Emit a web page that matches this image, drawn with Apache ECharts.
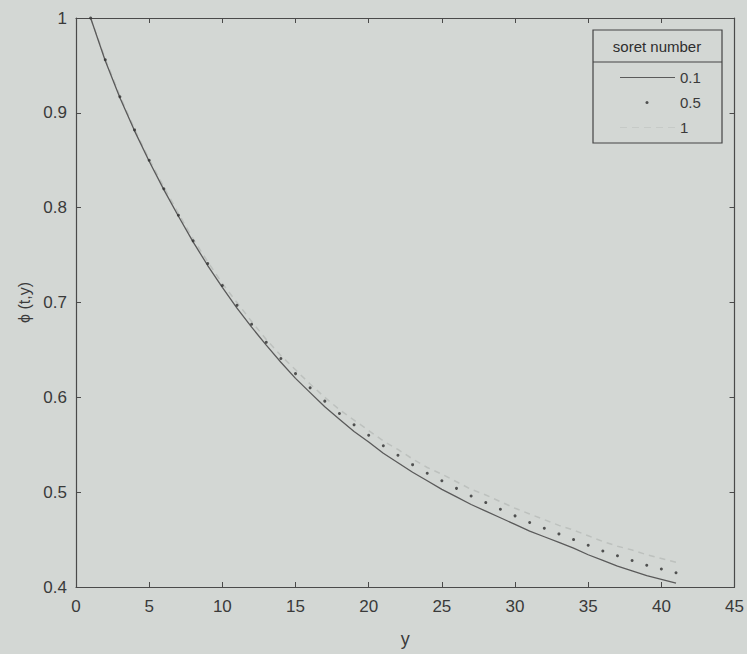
<!DOCTYPE html>
<html>
<head>
<meta charset="utf-8">
<script src="https://cdn.jsdelivr.net/npm/echarts@6/dist/echarts.min.js"></script>
<style>
html,body{margin:0;padding:0;background:#d3d7d4;}
#chart{width:747px;height:654px;}
</style>
</head>
<body>
<div id="chart"></div>
<script>
const yPos = [1,2,3,4,5,6,7,8,9,10,11,12,13,14,15,16,17,18,19,20,21,22,23,24,25,26,27,28,29,30,31,32,33,34,35,36,37,38,39,40,41];
const soret01 = [1.000,0.955,0.916,0.881,0.849,0.819,0.791,0.764,0.739,0.716,0.694,0.674,0.655,0.637,0.620,0.605,0.590,0.577,0.564,0.553,0.541,0.531,0.521,0.512,0.503,0.495,0.487,0.480,0.473,0.466,0.459,0.453,0.447,0.441,0.434,0.428,0.422,0.417,0.412,0.408,0.404];
const soret05 = [1.000,0.956,0.917,0.882,0.850,0.820,0.792,0.765,0.741,0.718,0.697,0.677,0.658,0.641,0.625,0.610,0.596,0.583,0.571,0.560,0.549,0.539,0.529,0.520,0.512,0.504,0.496,0.489,0.482,0.475,0.468,0.462,0.456,0.450,0.444,0.438,0.433,0.428,0.423,0.419,0.415];
const soret1  = [1.000,0.957,0.918,0.883,0.851,0.822,0.794,0.767,0.743,0.720,0.700,0.680,0.661,0.644,0.629,0.614,0.600,0.587,0.576,0.565,0.554,0.545,0.535,0.526,0.519,0.511,0.503,0.497,0.490,0.483,0.477,0.471,0.465,0.460,0.454,0.448,0.443,0.439,0.434,0.430,0.426];
const seriesNames = ['0.1','0.5','1'];
const legendTitle = 'soret number';
const xName = 'y';
const yName = 'ϕ (t,y)';

const pairs = (ys) => yPos.map((x, i) => [x, ys[i]]);
const font = '"Liberation Sans", Arial, sans-serif';
const axisColor = '#4a4a4a';
const textColor = '#3a3a3a';

const chart = echarts.init(document.getElementById('chart'), null, {renderer: 'svg'});
const baseX = {
  type: 'value', min: 0, max: 45, interval: 5,
  axisLine: {show: true, onZero: false, lineStyle: {color: axisColor, width: 1.2}},
  axisTick: {show: true, inside: true, length: 5, lineStyle: {color: axisColor}},
  splitLine: {show: false}
};
const baseY = {
  type: 'value', min: 0.4, max: 1, interval: 0.1,
  axisLine: {show: true, onZero: false, lineStyle: {color: axisColor, width: 1.2}},
  axisTick: {show: true, inside: true, length: 5, lineStyle: {color: axisColor}},
  splitLine: {show: false}
};
chart.setOption({
  backgroundColor: '#d3d7d4',
  animation: false,
  grid: {left: 76, right: 10, top: 18, bottom: 67, containLabel: false},
  xAxis: [
    Object.assign({}, baseX, {
      position: 'bottom',
      name: xName, nameLocation: 'middle', nameGap: 43,
      nameTextStyle: {fontFamily: font, fontSize: 18, color: textColor},
      axisLabel: {show: true, margin: 11, fontFamily: font, fontSize: 17, color: textColor}
    }),
    Object.assign({}, baseX, {position: 'top', axisLabel: {show: false}})
  ],
  yAxis: [
    Object.assign({}, baseY, {
      position: 'left',
      name: yName, nameLocation: 'middle', nameGap: 38,
      nameTextStyle: {fontFamily: font, fontSize: 16, color: textColor},
      axisLabel: {show: true, margin: 9, fontFamily: font, fontSize: 17, color: textColor,
        formatter: (v) => String(Math.round(v * 10) / 10)}
    }),
    Object.assign({}, baseY, {position: 'right', axisLabel: {show: false}})
  ],
  legend: {
    orient: 'vertical', left: 615, top: 65,
    itemWidth: 55, itemHeight: 14, itemGap: 10,
    textStyle: {fontFamily: font, fontSize: 15, color: textColor},
    data: [
      {name: seriesNames[0], icon: 'path://M0 0M55 14M0 6.5h55v1h-55z'},
      {name: seriesNames[1], icon: 'path://M0 0M55 14M25.5 7a1.5 1.5 0 1 0 3 0a1.5 1.5 0 1 0 -3 0z'},
      {name: seriesNames[2], icon: 'path://M0 0M55 14M0 6.5h7v1h-7zM12 6.5h7v1h-7zM24 6.5h7v1h-7zM36 6.5h7v1h-7zM48 6.5h7v1h-7z'}
    ]
  },
  graphic: [
    {type: 'rect', shape: {x: 593, y: 30, width: 129, height: 113},
     style: {fill: 'rgba(0,0,0,0)', stroke: '#444', lineWidth: 1.2}, z: 10},
    {type: 'line', shape: {x1: 593, y1: 62, x2: 722, y2: 62},
     style: {stroke: '#444', lineWidth: 1.2}, z: 10},
    {type: 'text', x: 657, y: 46,
     style: {text: legendTitle, fontFamily: font, fontSize: 15, fill: '#2e2e2e',
       textAlign: 'center', textVerticalAlign: 'middle'}, z: 10}
  ],
  series: [
    {name: seriesNames[2], type: 'line', data: pairs(soret1), showSymbol: false, symbol: 'none',
     lineStyle: {color: '#bdc1be', width: 1.5, type: [6, 5]}, itemStyle: {color: '#c6cac7'}, z: 1},
    {name: seriesNames[0], type: 'line', data: pairs(soret01), showSymbol: false, symbol: 'none',
     lineStyle: {color: '#5a5a5a', width: 1.3}, itemStyle: {color: '#5a5a5a'}, z: 2},
    {name: seriesNames[1], type: 'scatter', data: pairs(soret05), symbol: 'circle', symbolSize: 3,
     itemStyle: {color: '#2e2e2e'}, z: 3}
  ]
});
</script>
</body>
</html>
